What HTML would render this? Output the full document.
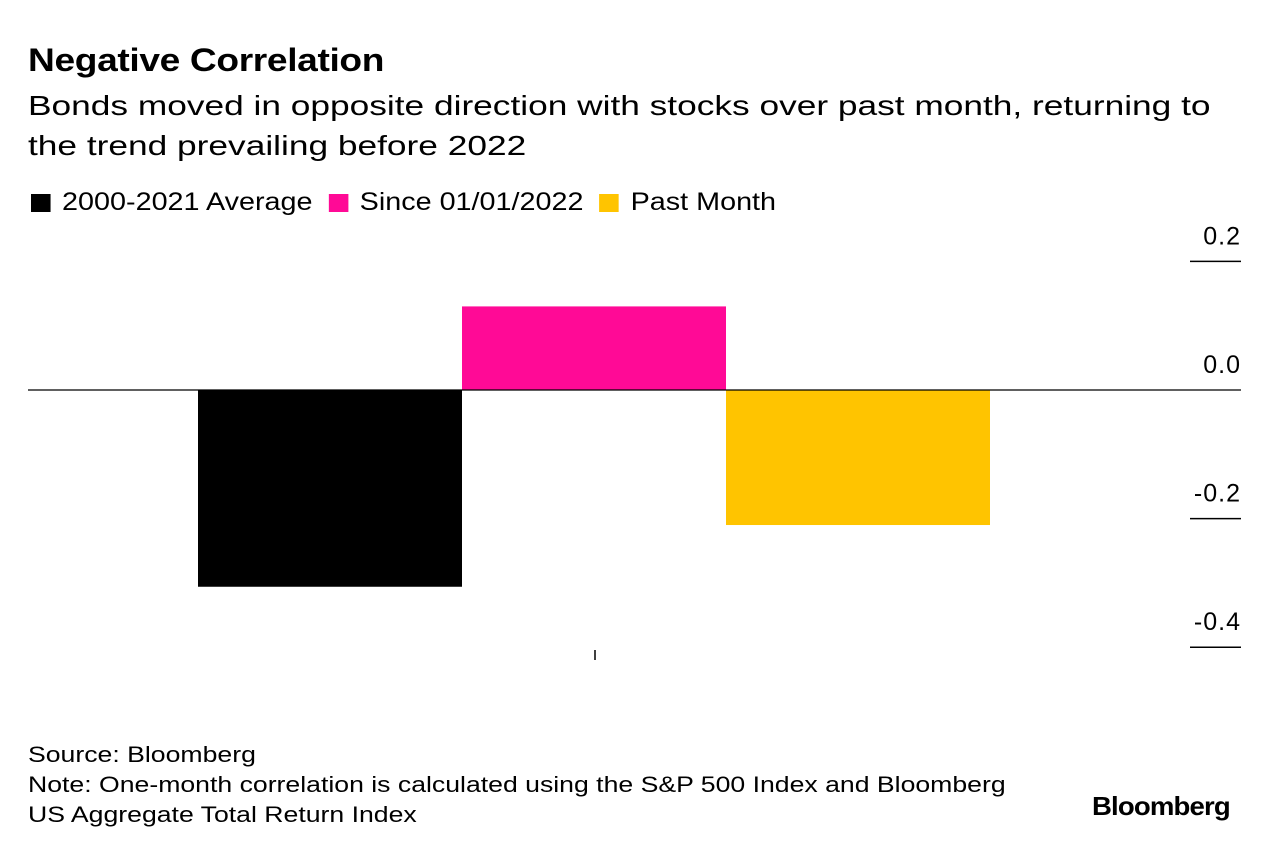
<!DOCTYPE html>
<html><head><meta charset="utf-8"><style>
body{margin:0;width:1269px;height:852px;background:#fff;font-family:"Liberation Sans",Arial,sans-serif;color:#000;overflow:hidden;position:relative}
.t{position:absolute;white-space:nowrap;transform-origin:0 0}
</style></head><body>
<div class="t" style="left:28px;top:42px;font-size:32px;font-weight:bold;letter-spacing:-0.3px;transform:scaleX(1.16)">Negative Correlation</div>
<div class="t" style="left:28px;top:86px;font-size:28px;line-height:40px;transform:scaleX(1.26)">Bonds moved in opposite direction with stocks over past month, returning to<br>the trend prevailing before 2022</div>
<div style="position:absolute;left:31px;top:188px;font-size:25px;display:flex;align-items:center;transform-origin:0 0;transform:scaleX(1.15)">
<span style="width:17px;height:18px;background:#000;margin-right:10px"></span><span style="margin-right:14px">2000-2021 Average</span>
<span style="width:17px;height:18px;background:#ff0a96;margin-right:10px"></span><span style="margin-right:14px">Since 01/01/2022</span>
<span style="width:17px;height:18px;background:#ffc400;margin-right:10px"></span><span>Past Month</span>
</div>
<svg id="chart" width="1269" height="852" style="position:absolute;left:0;top:0"></svg>
<div class="t" style="left:28px;top:740px;font-size:22px;line-height:30px;transform:scaleX(1.21)">Source: Bloomberg<br>Note: One-month correlation is calculated using the S&amp;P 500 Index and Bloomberg<br>US Aggregate Total Return Index</div>
<div class="t" style="left:1092px;top:791px;font-size:26px;font-weight:bold;letter-spacing:-0.8px;transform:scaleX(1.06)">Bloomberg</div>
<script>
const categories=["2000-2021 Average","Since 01/01/2022","Past Month"];
const values=[-0.306,0.13,-0.21];
const colors=["#000000","#ff0a96","#ffc400"];
const ticks=[0.2,0.0,-0.2,-0.4];
const tickLabels=["0.2","0.0","-0.2","-0.4"];
const NS="http://www.w3.org/2000/svg";
const svg=document.getElementById('chart');
const y0=390,ppu=643;
function y(v){return y0-v*ppu;}
const bandL=198,bandW=264;
function x(i){return bandL+i*bandW;}
function mk(t,a){const e=document.createElementNS(NS,t);for(const k in a)e.setAttribute(k,a[k]);svg.appendChild(e);return e;}
ticks.forEach((t,i)=>{
 if(t!==0){const l=mk('line',{x1:1190,x2:1241,y1:y(t),y2:y(t),stroke:'#000','stroke-width':1.5});
 
 }
 const tx=mk('text',{x:1241,y:y(t)-17,'text-anchor':'end','font-size':25,'letter-spacing':1,'font-family':'Liberation Sans, Arial, sans-serif'});
 tx.textContent=tickLabels[i];
 
 
});
values.forEach((v,i)=>{
 const r=mk('rect',{x:x(i),width:bandW,y:Math.min(y(v),y0),height:Math.abs(y(v)-y0),fill:colors[i]});
 
 
});
const z=mk('line',{x1:28,x2:1241,y1:y0,y2:y0,stroke:'#000','stroke-width':1.2});


const tk=mk('line',{x1:595,x2:595,y1:650,y2:660,stroke:'#000','stroke-width':1.5});


</script>
</body></html>
